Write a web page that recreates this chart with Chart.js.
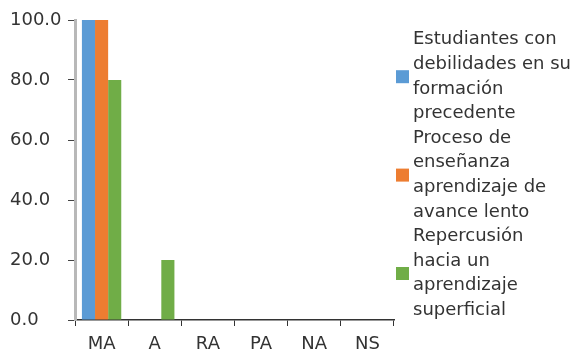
<!DOCTYPE html>
<html>
<head>
<meta charset="utf-8">
<script src="https://cdn.jsdelivr.net/npm/chart.js@4/dist/chart.umd.min.js"></script>
<style>
  html, body { margin: 0; padding: 0; background: #fff; }
  #wrap { width: 582px; height: 351px; position: relative; }
</style>
</head>
<body>
<div id="wrap"><canvas id="chart"></canvas></div>
<script>
// Response categories on the horizontal axis
const categories = ['MA', 'A', 'RA', 'PA', 'NA', 'NS'];

// Series names, already broken into the lines shown in the legend
const seriesLabels = [
  ['Estudiantes con', 'debilidades en su', 'formación', 'precedente'],
  ['Proceso de', 'enseñanza', 'aprendizaje de', 'avance lento'],
  ['Repercusión', 'hacia un', 'aprendizaje', 'superficial']
];

// Percentages per category
const debilidadesFormacion = [100, 0, 0, 0, 0, 0];
const avanceLento = [100, 0, 0, 0, 0, 0];
const aprendizajeSuperficial = [80, 20, 0, 0, 0, 0];

// Vertical axis range and step
const yMin = 0;
const yMax = 100;
const yStep = 20;

const seriesColors = ['#5B9BD5', '#ED7D31', '#70AD47'];
const FONT = 'DejaVu Sans';
const FONT_SIZE = 18;
const TEXT_COLOR = '#333';

// Legend drawn to the right of the plot, one square per series,
// vertically centred on that series' multi-line label
const sideLegend = {
  id: 'sideLegend',
  afterDraw(chart) {
    const { ctx, chartArea } = chart;
    const lineH = 24.6;
    const box = 13;
    const boxX = chartArea.right + 2;
    const textX = chartArea.right + 19;
    let y = chartArea.top + 7.5;
    ctx.save();
    ctx.font = FONT_SIZE + 'px "' + FONT + '"';
    ctx.textBaseline = 'middle';
    ctx.textAlign = 'left';
    chart.data.datasets.forEach((ds) => {
      const lines = ds.legendLines;
      const blockH = lines.length * lineH;
      ctx.fillStyle = ds.backgroundColor;
      ctx.fillRect(boxX, y + blockH / 2 - box / 2, box, box);
      ctx.fillStyle = TEXT_COLOR;
      lines.forEach((t, k) => ctx.fillText(t, textX, y + lineH * (k + 0.5)));
      y += blockH;
    });
    ctx.restore();
  }
};

const seriesValues = [debilidadesFormacion, avanceLento, aprendizajeSuperficial];

new Chart(document.getElementById('chart'), {
  type: 'bar',
  data: {
    labels: categories,
    datasets: seriesValues.map((vals, i) => ({
      label: seriesLabels[i].join(' '),
      legendLines: seriesLabels[i],
      data: vals,
      backgroundColor: seriesColors[i],
      borderWidth: 0,
      barPercentage: 1.0,
      categoryPercentage: 0.74
    }))
  },
  options: {
    responsive: true,
    maintainAspectRatio: false,
    animation: false,
    events: [],
    layout: { padding: { top: 20, right: 188, left: 10, bottom: 0 } },
    plugins: {
      legend: { display: false },
      tooltip: { enabled: false }
    },
    scales: {
      x: {
        grid: {
          drawOnChartArea: false,
          drawTicks: true,
          tickLength: 6,
          color: '#333',
          offset: true
        },
        border: { display: true, color: '#333', width: 1.5 },
        ticks: {
          color: TEXT_COLOR,
          font: { family: FONT, size: FONT_SIZE },
          padding: 8,
          maxRotation: 0,
          autoSkip: false
        },
        afterFit(scale) { scale.height = 31; }
      },
      y: {
        min: yMin,
        max: yMax,
        grid: {
          drawOnChartArea: false,
          drawTicks: true,
          tickLength: 7,
          color: '#444'
        },
        border: { display: true, color: '#b8b8b8', width: 3 },
        ticks: {
          stepSize: yStep,
          color: TEXT_COLOR,
          font: { family: FONT, size: FONT_SIZE },
          padding: 5,
          crossAlign: 'far',
          callback: v => Number(v).toFixed(1)
        },
        afterFit(scale) { scale.width = 65; }
      }
    }
  },
  plugins: [sideLegend]
});
</script>
</body>
</html>
